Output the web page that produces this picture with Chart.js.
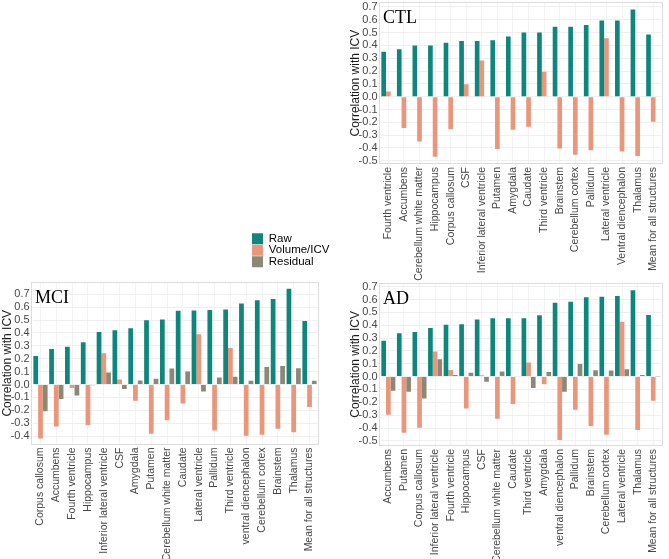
<!DOCTYPE html>
<html><head><meta charset="utf-8">
<script src="https://cdn.jsdelivr.net/npm/chart.js@4.4.0/dist/chart.umd.min.js"></script>
<style>
html,body{margin:0;padding:0;background:#fff;width:669px;height:559px;overflow:hidden;position:relative}
canvas{position:absolute}
</style></head><body>
<canvas id="cCTL" width="329" height="310" style="left:340px;top:-20px"></canvas>
<canvas id="cMCI" width="340" height="297" style="left:0px;top:262px"></canvas>
<canvas id="cAD" width="329" height="297" style="left:340px;top:262px"></canvas>
<canvas id="cLeg" width="240" height="45" style="left:252px;top:233px"></canvas>
<script>
// ---------- DATA ----------
const seriesNames = ["Raw", "Volume/ICV", "Residual"];

const ctlCategories = ["Fourth ventricle","Accumbens","Cerebellum white matter","Hippocampus","Corpus callosum","CSF","Inferior lateral ventricle","Putamen","Amygdala","Caudate","Third ventricle","Brainstem","Cerebellum cortex","Pallidum","Lateral ventricle","Ventral diencephalon","Thalamus","Mean for all structures"];
const ctlRaw      = [0.35,0.37,0.40,0.40,0.42,0.435,0.435,0.44,0.47,0.50,0.50,0.545,0.545,0.56,0.595,0.595,0.68,0.485];
const ctlVolume   = [0.04,-0.245,-0.35,-0.468,-0.253,0.098,0.282,-0.408,-0.258,-0.235,0.194,-0.405,-0.453,-0.417,0.455,-0.427,-0.463,-0.195];
const ctlResidual = [0,0,0,0,0,0,0,0,0,0,0,0,0,0,0,0,0,0];
const ctlTicks    = [-0.5,-0.4,-0.3,-0.2,-0.1,0.0,0.1,0.2,0.3,0.4,0.5,0.6,0.7];

const mciCategories = ["Corpus callosum","Accumbens","Fourth ventricle","Hippocampus","Inferior lateral ventricle","CSF","Amygdala","Putamen","Cerebellum white matter","Caudate","Lateral ventricle","Pallidum","Third ventricle","ventral diencephalon","Cerebellum cortex","Brainstem","Thalamus","Mean for all structures"];
const mciRaw      = [0.222,0.275,0.293,0.327,0.408,0.42,0.436,0.499,0.505,0.573,0.574,0.577,0.582,0.629,0.653,0.663,0.742,0.493];
const mciVolume   = [-0.418,-0.325,-0.026,-0.313,0.242,0.039,-0.125,-0.382,-0.276,-0.148,0.39,-0.356,0.283,-0.397,-0.39,-0.343,-0.37,-0.174];
const mciResidual = [-0.208,-0.112,-0.085,-0.005,0.093,-0.035,0.032,0.044,0.125,0.102,-0.055,0.055,0.06,0.029,0.135,0.143,0.127,0.029];
const mciTicks    = [-0.4,-0.3,-0.2,-0.1,0.0,0.1,0.2,0.3,0.4,0.5,0.6,0.7];

const adCategories = ["Accumbens","Putamen","Corpus callosum","Inferior lateral ventricle","Fourth ventricle","Hippocampus","CSF","Cerebellum white matter","Caudate","Third ventricle","Amygdala","ventral diencephalon","Pallidum","Brainstem","Cerebellum cortex","Lateral ventricle","Thalamus","Mean for all structures"];
const adRaw      = [0.28,0.338,0.348,0.378,0.404,0.408,0.445,0.455,0.455,0.455,0.478,0.575,0.582,0.618,0.622,0.628,0.673,0.48];
const adVolume   = [-0.297,-0.437,-0.398,0.195,0.052,-0.248,0.01,-0.328,-0.214,0.109,-0.059,-0.494,-0.258,-0.385,-0.452,0.428,-0.416,-0.188];
const adResidual = [-0.11,-0.118,-0.17,0.135,0.012,0.031,-0.039,0.039,0.004,-0.088,0.036,-0.117,0.098,0.049,0.047,0.057,0.013,0.003];
const adTicks    = [-0.5,-0.4,-0.3,-0.2,-0.1,0.0,0.1,0.2,0.3,0.4,0.5,0.6,0.7];

// ---------- STYLE ----------
const COLORS = ["#0d877d", "#e9967a", "#8b8878"];
const SANS = '"Liberation Sans", Arial, sans-serif';

const panelPlugin = {
  id: 'panel',
  afterDatasetsDraw(chart, args, opts) {
    const {ctx, chartArea: a} = chart;
    const n = chart.data.labels.length;
    const ext = 0.1 * (a.right - a.left) / n;
    ctx.save();
    ctx.strokeStyle = '#dcdcdc';
    ctx.lineWidth = 1;
    ctx.strokeRect(Math.round(a.left - ext) + 0.5, Math.round(a.top) + 0.5,
                   Math.round(a.right - a.left + 2 * ext) - 1, Math.round(a.bottom - a.top) - 1);
    if (opts.text) {
      ctx.font = '18px "Liberation Serif", "Times New Roman", serif';
      ctx.fillStyle = '#000';
      ctx.textBaseline = 'alphabetic';
      ctx.fillText(opts.text, a.left - ext + 4, a.top + 21);
    }
    ctx.restore();
  }
};

function makePanel(id, label, cats, raw, vol, res, ticks, cfg) {
  const vals = [raw, vol, res];
  new Chart(document.getElementById(id), {
    type: 'bar',
    data: {
      labels: cats,
      datasets: seriesNames.map((name, i) => ({
        label: name, data: vals[i], backgroundColor: COLORS[i], borderWidth: 0
      }))
    },
    plugins: [panelPlugin],
    options: {
      responsive: false,
      animation: false,
      devicePixelRatio: 1,
      layout: { padding: cfg.padding },
      categoryPercentage: 0.9,
      barPercentage: 1.0,
      plugins: {
        legend: { display: false },
        tooltip: { enabled: false },
        panel: { text: label }
      },
      scales: {
        x: {
          offset: true,
          afterFit: s => { s.height = cfg.xH; },
          grid: { display: true, offset: false, color: '#f3f3f3', drawTicks: false },
          border: { display: false },
          ticks: {
            autoSkip: false, minRotation: 90, maxRotation: 90, padding: 3,
            color: '#474747', font: { family: SANS, size: 10.5 }
          }
        },
        y: {
          min: cfg.min, max: cfg.max,
          afterFit: s => { s.width = cfg.yW; },
          afterBuildTicks: s => { s.ticks = ticks.map(v => ({ value: v })); },
          grid: { color: '#efefef', drawTicks: false },
          border: { display: false },
          ticks: {
            autoSkip: false, padding: 3, color: '#474747', font: { family: SANS, size: 11 },
            callback: v => Number(v).toFixed(1)
          },
          title: {
            display: true, text: 'Correlation with ICV', color: '#1a1a1a',
            padding: 0, font: { family: SANS, size: 12 }
          }
        }
      }
    }
  });
}

makePanel('cCTL', 'CTL', ctlCategories, ctlRaw, ctlVolume, ctlResidual, ctlTicks,
  { min: -0.525, max: 0.737, padding: { left: 8.8, right: 7.56, top: 22.2, bottom: 6 }, yW: 31.76, xH: 120 });
makePanel('cMCI', 'MCI', mciCategories, mciRaw, mciVolume, mciResidual, mciTicks,
  { min: -0.465, max: 0.795, padding: { left: 0, right: 22.58, top: 20, bottom: 0 }, yW: 32.58, xH: 114.5 });
makePanel('cAD', 'AD', adCategories, adRaw, adVolume, adResidual, adTicks,
  { min: -0.54, max: 0.731, padding: { left: 8.8, right: 6.57, top: 20.7, bottom: 0 }, yW: 31.77, xH: 113 });

// legend
new Chart(document.getElementById('cLeg'), {
  type: 'bar',
  data: { labels: [], datasets: seriesNames.map((name, i) => ({ label: name, data: [], backgroundColor: COLORS[i], borderWidth: 0 })) },
  options: {
    responsive: false, animation: false, devicePixelRatio: 1,
    layout: { padding: 0 },
    scales: { x: { display: false }, y: { display: false } },
    plugins: {
      tooltip: { enabled: false },
      legend: {
        position: 'left', align: 'start',
        labels: { boxWidth: 11, boxHeight: 11, padding: 0, color: '#000', font: { family: SANS, size: 11.5 } }
      }
    }
  }
});
</script>
</body></html>
